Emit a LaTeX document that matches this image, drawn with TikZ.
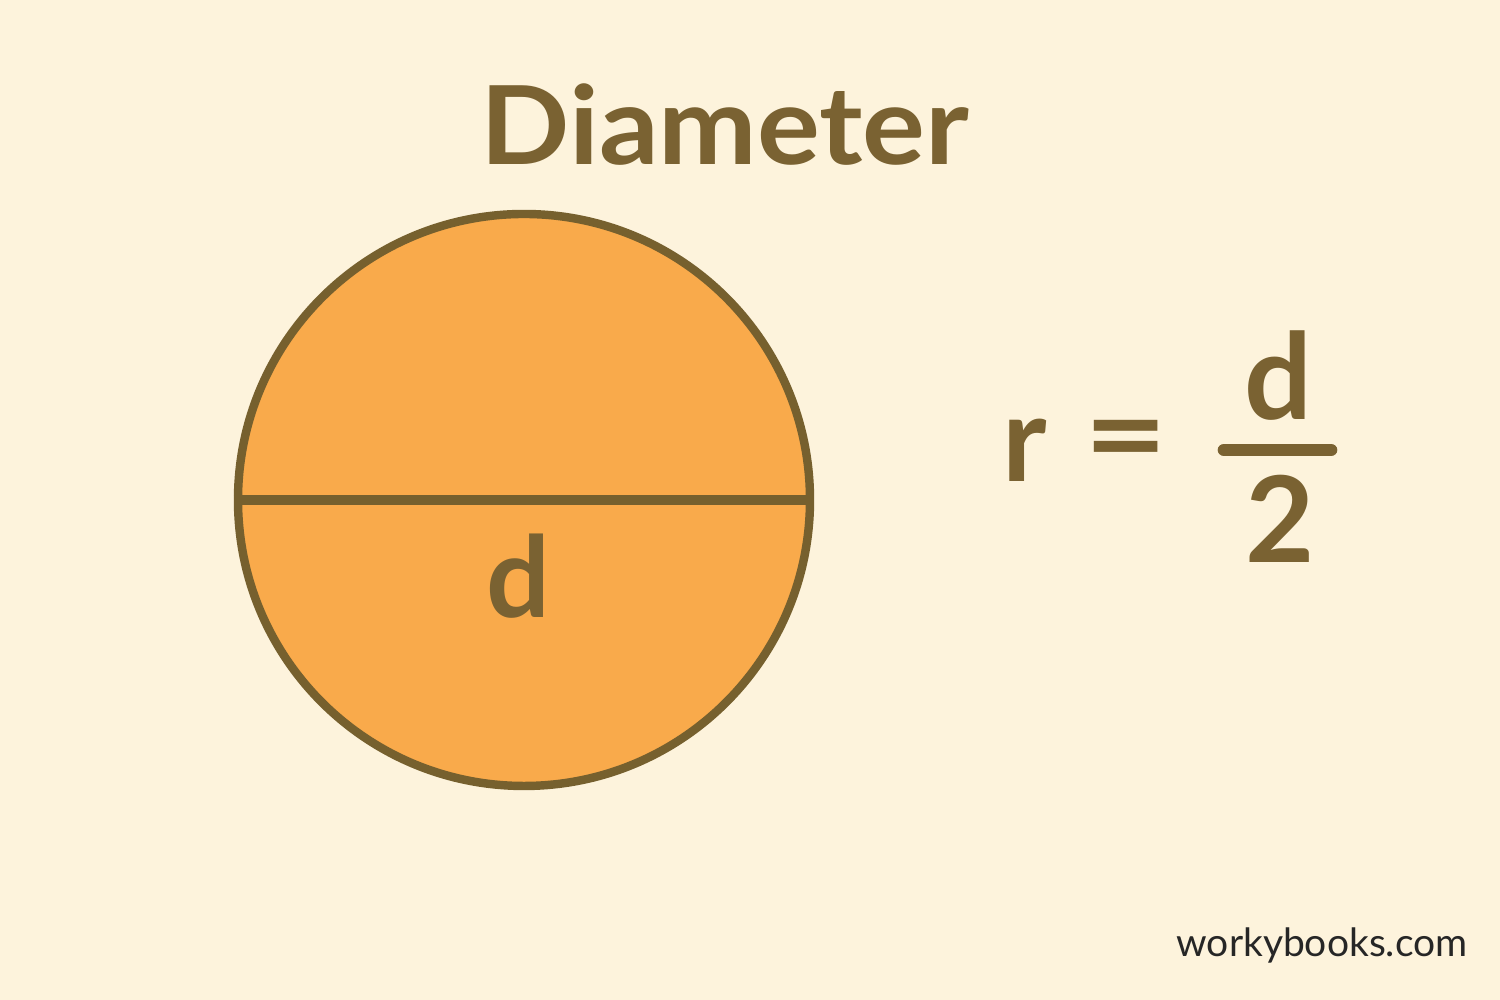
\documentclass[tikz,border=0pt]{standalone}
\usepackage{fontspec}
\setmainfont{Lato}
\usetikzlibrary{positioning}

\definecolor{paper}{HTML}{FDF3DC}
\definecolor{discfill}{HTML}{F9AA4B}
\definecolor{rim}{HTML}{76602E}
\definecolor{ink}{HTML}{7A6232}

\begin{document}
\begin{tikzpicture}
    \fill[paper] (0,0) rectangle (15,10);
    \useasboundingbox (0,0) rectangle (15,10);

    % circle and its diameter
    \node[circle,draw=rim,line width=2.4pt,fill=discfill,
          minimum size=5.72cm,inner sep=0pt] (disc) at (5.24,5.0) {};
    \draw[rim,line width=3pt] (disc.west) -- (disc.east);

    \begin{scope}[every node/.style={text=ink,anchor=base,inner sep=0pt}]
      \node[font=\fontsize{31}{36}\bfseries,xscale=1.08] (title) at (7.25,8.35) {Diameter};
      \node[font=\fontsize{32}{36}\bfseries] (dlabel) at (5.18,3.82) {d};

      \node[font=\fontsize{34}{38}\bfseries] (r) at (10.25,5.18) {r};
      \node[font=\fontsize{34}{38}\bfseries,anchor=center,xscale=1.2] (eq) at (11.26,5.52) {=};
      \node[font=\fontsize{34}{38}\bfseries] (num) at (12.78,5.80) {d};
      \node[font=\fontsize{34}{38}\bfseries] (den) at (12.80,4.37) {2};
    \end{scope}

    \coordinate (barL) at (12.24,5.50);
    \coordinate (barR) at (13.31,5.50);
    \draw[ink,line width=3.6pt,line cap=round] (barL) -- (barR);

    \node[anchor=base,inner sep=0pt,text=black!85,
          font=\fontsize{11.1}{14}\selectfont] (site) at (13.22,0.43) {workybooks.com};
  \end{tikzpicture}
\end{document}
